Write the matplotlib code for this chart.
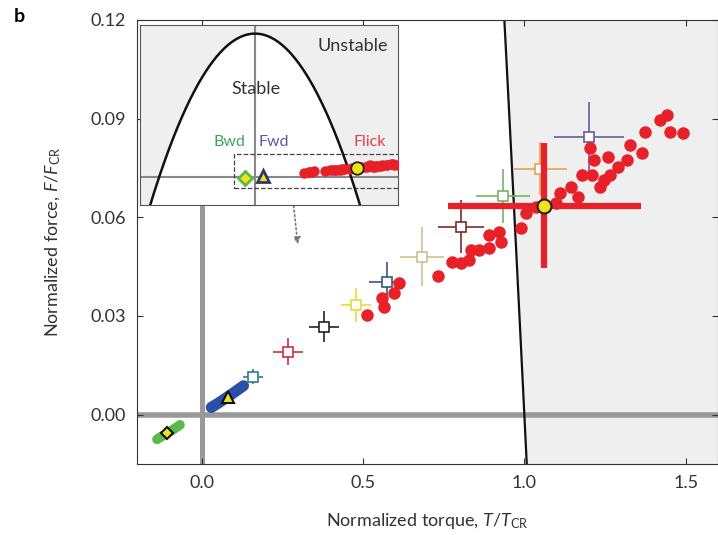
import numpy as np
import matplotlib.pyplot as plt
from matplotlib.patches import Rectangle

plt.rcParams['font.family'] = ['Lato', 'DejaVu Sans']
plt.rcParams['mathtext.fontset'] = 'custom'
plt.rcParams['mathtext.rm'] = 'Lato'
plt.rcParams['mathtext.it'] = 'Lato:italic'

# Flick data (red dots)
flick_T = [0.512, 0.559, 0.565, 0.596, 0.612, 0.733, 0.776, 0.804, 0.829, 0.835,
           0.860, 0.891, 0.891, 0.922, 0.929, 0.991, 1.006, 1.037, 1.099, 1.109,
           1.146, 1.165, 1.180, 1.211, 1.233, 1.248, 1.264, 1.289, 1.317, 1.326,
           1.363, 1.202, 1.217, 1.258, 1.373, 1.419, 1.441, 1.450, 1.491]
flick_F = [0.0304, 0.0356, 0.0328, 0.0371, 0.0401, 0.0423, 0.0465, 0.0462, 0.0471, 0.0502,
           0.0502, 0.0508, 0.0547, 0.0556, 0.0526, 0.0569, 0.0614, 0.0632, 0.0645, 0.0675,
           0.0693, 0.0663, 0.0730, 0.0730, 0.0693, 0.0714, 0.0730, 0.0754, 0.0775, 0.0821,
           0.0797, 0.0812, 0.0775, 0.0784, 0.0860, 0.0897, 0.0912, 0.0860, 0.0857]
flick_mean = (1.062, 0.0635)
flick_err = (0.30, 0.019)

# Forward (blue) and backward (green) swimming
fwd_T = [0.03, 0.05, 0.07, 0.09, 0.11, 0.13]
fwd_F = [0.0022, 0.0034, 0.0047, 0.0060, 0.0074, 0.0088]
fwd_mean = (0.081, 0.0055)
bwd_T = [-0.138, -0.12, -0.10, -0.083, -0.067]
bwd_F = [-0.0075, -0.0064, -0.0053, -0.0042, -0.0031]
bwd_mean = (-0.106, -0.0055)

# Other species (squares with error bars)
sq_T = [0.158, 0.267, 0.379, 0.478, 0.575, 0.683, 0.804, 0.935, 1.05, 1.20]
sq_F = [0.0116, 0.0192, 0.0268, 0.0334, 0.0404, 0.0480, 0.0572, 0.0666, 0.0748, 0.0845]
sq_Terr = [0.031, 0.047, 0.047, 0.047, 0.056, 0.068, 0.071, 0.084, 0.081, 0.109]
sq_Ferr = [0.0024, 0.0040, 0.0046, 0.0052, 0.0060, 0.0090, 0.0080, 0.0082, 0.0080, 0.0106]
sq_colors = ['#2a7f80', '#d0303f', '#222222', '#e6dc3a', '#3a5582',
             '#c9c28e', '#7a2a30', '#78b464', '#e3a35a', '#6a5c9a']

fig = plt.figure(figsize=(7.18, 5.35), dpi=100)
ax = fig.add_axes([137 / 718, 1 - 464 / 535, 581 / 718, 444 / 535])
ax.set_xlim(-0.2, 1.6)
ax.set_ylim(-0.015, 0.12)

# stability boundary F = 1 - T^2
Fb = np.linspace(-0.015, 0.12, 100)
Tb = np.sqrt(1 - Fb)
ax.fill_betweenx(Fb, Tb, 1.6, color='#efefef', zorder=0)
ax.plot(Tb, Fb, color='#111111', lw=1.6, zorder=2)

ax.axhline(0, color='#999999', lw=4, zorder=1)
ax.plot([0, 0], [-0.015, 0.0635], color='#999999', lw=3.6, zorder=1)

ax.plot(bwd_T, bwd_F, color='#5cb848', lw=7, solid_capstyle='round', zorder=3)
ax.plot(fwd_T, fwd_F, color='#2b4fa6', lw=8, solid_capstyle='round', zorder=3)

for t, f, te, fe, c in zip(sq_T, sq_F, sq_Terr, sq_Ferr, sq_colors):
    ax.errorbar(t, f, xerr=te, yerr=fe, fmt='s', color=c, mfc='white', mec=c,
                ms=7, mew=1.2, elinewidth=1.2, capsize=0, zorder=4)

ax.plot(flick_T, flick_F, 'o', color='#e8202a', ms=9, mec='none', zorder=5)
ax.errorbar(*flick_mean, xerr=flick_err[0], yerr=flick_err[1], fmt='none',
            ecolor='#e8202a', elinewidth=4.5, capsize=0, zorder=6)
ax.plot(*flick_mean, 'o', color='#f2e21a', mec='#222222', mew=1.5, ms=10, zorder=7)
ax.plot(*fwd_mean, '^', color='#f2e21a', mec='#111111', mew=1.5, ms=8, zorder=7)
ax.plot(*bwd_mean, 'D', color='#f2e21a', mec='#111111', mew=1.5, ms=6.5, zorder=7)

ax.set_xticks([0.0, 0.5, 1.0, 1.5])
ax.set_xticklabels(['0.0', '0.5', '1.0', '1.5'])
ax.set_yticks([0.0, 0.03, 0.06, 0.09, 0.12])
ax.set_yticklabels(['0.00', '0.03', '0.06', '0.09', '0.12'])
ax.tick_params(direction='in', length=4, labelsize=13, colors='#333333',
               top=True, right=True, pad=8)
for s in ax.spines.values():
    s.set_color('#333333')
ax.set_xlabel('Normalized torque, $T/T_{\\rm CR}$', fontsize=13, color='#333333', labelpad=14)
ax.set_ylabel('Normalized force, $F/F_{\\rm CR}$', fontsize=13, color='#333333', labelpad=20)

fig.text(14 / 718, 1 - 16 / 535, 'b', fontsize=14, fontweight='bold', va='center')

# inset
ins = fig.add_axes([140 / 718, 1 - 205 / 535, 258 / 718, 180 / 535])
ins.set_xlim(-1.2, 1.49)
ins.set_ylim(-0.196, 1.06)
ins.set_facecolor('#efefef')
Ti = np.linspace(-1.1, 1.1, 200)
ins.fill_between(Ti, -0.196, 1 - Ti ** 2, color='white', zorder=0)
ins.plot(Ti, 1 - Ti ** 2, color='#111111', lw=1.8, zorder=3)
ins.axhline(0, color='#888888', lw=1.5, zorder=1)
ins.axvline(0, color='#888888', lw=1.5, zorder=1)
ins.add_patch(Rectangle((-0.22, -0.077), 1.9, 0.237, fill=False, ls='--',
                        lw=0.9, ec='#444444', zorder=2))
ins.plot(flick_T, flick_F, 'o', color='#e8202a', ms=7.5, mec='none', zorder=4)
ins.plot(*flick_mean, 'o', color='#f2e21a', mec='#222222', mew=1.3, ms=9, zorder=5)
ins.plot(*fwd_mean, '^', color='#f2e21a', mec='#2b3a6a', mew=2, ms=8, zorder=5)
ins.plot(*bwd_mean, 'D', color='#f2e21a', mec='#5cb848', mew=2, ms=7, zorder=5)
ins.text(1.02, 0.91, 'Unstable', fontsize=13, color='#333333', ha='center', va='center')
ins.text(0.01, 0.61, 'Stable', fontsize=13, color='#333333', ha='center', va='center')
ins.text(-0.27, 0.245, 'Bwd', fontsize=11.5, color='#3aa65a', ha='center', va='center')
ins.text(0.19, 0.245, 'Fwd', fontsize=11.5, color='#5a5aa8', ha='center', va='center')
ins.text(1.2, 0.245, 'Flick', fontsize=11.5, color='#e8404a', ha='center', va='center')
ins.set_xticks([])
ins.set_yticks([])
for s in ins.spines.values():
    s.set_color('#555555')

ax.annotate('', xy=(298, 535 - 247), xytext=(292, 535 - 190),
            xycoords='figure pixels', textcoords='figure pixels',
            arrowprops=dict(arrowstyle='-|>', ls=':', color='#777777', lw=1.2))

fig.savefig('out.png', dpi=100)
